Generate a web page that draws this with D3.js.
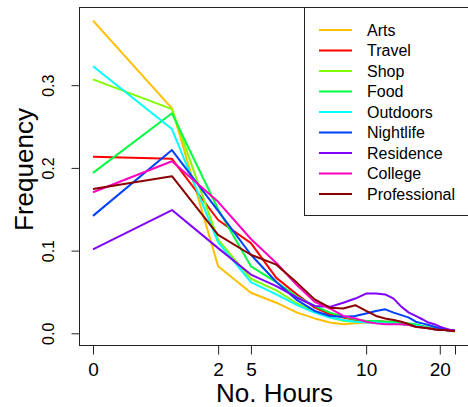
<!DOCTYPE html>
<html><head><meta charset="utf-8">
<script src="https://cdn.jsdelivr.net/npm/d3@7/dist/d3.min.js"></script>
<style>
body{margin:0;background:#fff}
svg{display:block}
text{font-family:"Liberation Sans",Arial,Helvetica,sans-serif;fill:#000}
</style>
</head><body>
<svg id="chart" width="468" height="407"></svg>
<script>
// ---- data ----
const hours = [0,1,2,3,4,5,6,7,8,9,10,11,12,13,14,15,16,17,18,19,20,21,22,23];
const seriesNames = ["Arts","Travel","Shop","Food","Outdoors","Nightlife","Residence","College","Professional"];
const seriesColors = ["#FFBF00","#FF0000","#80FF00","#00FF40","#00FFFF","#0040FF","#8000FF","#FF00BF","#8B0000"];
const arts        = [0.378,0.272,0.081,0.049,0.037,0.025,0.018,0.013,0.011,0.012,0.013,0.013,0.012,0.012,0.011,0.010,0.008,0.007,0.006,0.005,0.004,0.004,0.003,0.002];
const travel      = [0.2135,0.211,0.137,0.109,0.067,0.047,0.031,0.023,0.019,0.016,0.015,0.015,0.014,0.014,0.013,0.011,0.009,0.008,0.006,0.005,0.004,0.004,0.003,0.003];
const shop        = [0.307,0.271,0.113,0.066,0.052,0.036,0.026,0.019,0.015,0.014,0.014,0.014,0.013,0.013,0.012,0.011,0.010,0.008,0.007,0.005,0.004,0.004,0.003,0.003];
const food        = [0.194,0.266,0.150,0.081,0.062,0.044,0.033,0.025,0.020,0.017,0.015,0.015,0.014,0.014,0.013,0.012,0.011,0.009,0.007,0.006,0.005,0.004,0.003,0.003];
const outdoors    = [0.323,0.247,0.110,0.062,0.047,0.034,0.025,0.019,0.016,0.014,0.013,0.013,0.012,0.012,0.011,0.010,0.009,0.008,0.006,0.005,0.004,0.004,0.003,0.003];
const nightlife   = [0.142,0.2216,0.148,0.095,0.062,0.040,0.027,0.021,0.020,0.021,0.024,0.027,0.029,0.025,0.022,0.019,0.014,0.012,0.010,0.008,0.006,0.005,0.004,0.003];
const residence   = [0.1016,0.149,0.103,0.071,0.057,0.043,0.033,0.032,0.037,0.042,0.048,0.048,0.047,0.042,0.032,0.025,0.021,0.017,0.013,0.011,0.008,0.006,0.004,0.003];
const college     = [0.1705,0.208,0.159,0.114,0.085,0.058,0.038,0.030,0.021,0.018,0.014,0.012,0.011,0.011,0.011,0.010,0.008,0.007,0.006,0.005,0.004,0.004,0.003,0.003];
const professional= [0.1745,0.190,0.119,0.095,0.083,0.061,0.041,0.031,0.030,0.034,0.027,0.021,0.018,0.016,0.014,0.011,0.008,0.007,0.006,0.005,0.004,0.004,0.003,0.003];
const seriesValues = [arts,travel,shop,food,outdoors,nightlife,residence,college,professional];
const xTickValues = [0,2,3,10,20,23];
const xTickLabels = ["0","2","5","10","20",""];
const yTickValues = [0,0.1,0.2,0.3];

// ---- layout ----
const svg = d3.select("#chart");
const box = {left:79, top:7.5, right:469.5, bottom:345.5};
const x = d3.scaleSymlog().constant(1).domain([0,23]).range([93,455]);
const y = d3.scaleLinear().domain([0,0.3]).range([333.3,85.2]);

// lines
const line = d3.line().x((d,i)=>x(hours[i])).y(d=>y(d));
const gLines = svg.append("g");
seriesValues.forEach((vals,k)=>{
  gLines.append("path").datum(vals)
    .attr("d",line).attr("fill","none")
    .attr("stroke",seriesColors[k]).attr("stroke-width",2)
    .attr("stroke-linejoin","round");
});

// box
svg.append("rect").attr("x",box.left+0.5).attr("y",box.top)
  .attr("width",box.right-box.left).attr("height",box.bottom-box.top)
  .attr("fill","none").attr("stroke","#222").attr("stroke-width",1);

// x axis
const gx = svg.append("g").attr("transform",`translate(0,${box.bottom})`)
  .call(d3.axisBottom(x).tickValues(xTickValues).tickFormat((d,i)=>xTickLabels[i]).tickSize(9).tickSizeOuter(0));
gx.select(".domain").remove();
gx.selectAll(".tick line").attr("stroke","#222");
gx.selectAll(".tick text").attr("y",17).attr("font-size",19).attr("font-family",null);

// y axis
const gy = svg.append("g").attr("transform",`translate(${box.left+0.5},0)`)
  .call(d3.axisLeft(y).tickValues(yTickValues).tickFormat(d3.format(".1f")).tickSize(8).tickSizeOuter(0));
gy.select(".domain").remove();
gy.selectAll(".tick line").attr("stroke","#222");
gy.selectAll(".tick text").attr("x",null).attr("dy",null)
  .attr("text-anchor","middle").attr("font-size",16).attr("font-family",null)
  .attr("transform","translate(-26,0) rotate(-90)");

// axis titles
svg.append("text").attr("x",274.5).attr("y",402).attr("text-anchor","middle")
  .attr("font-size",26).text("No. Hours");
svg.append("text").attr("transform","translate(33,169.5) rotate(-90)")
  .attr("text-anchor","middle").attr("font-size",26).text("Frequency");

// legend
const lg = svg.append("g");
lg.append("rect").attr("x",304.5).attr("y",7.5).attr("width",170).attr("height",208)
  .attr("fill","#fff").attr("stroke","#222").attr("stroke-width",1);
seriesNames.forEach((n,k)=>{
  const yy = 30 + k*20.5;
  lg.append("line").attr("x1",319).attr("x2",352).attr("y1",yy).attr("y2",yy)
    .attr("stroke",seriesColors[k]).attr("stroke-width",2);
  lg.append("text").attr("x",367).attr("y",yy).attr("dy","0.36em")
    .attr("font-size",16).text(n);
});
</script>
</body></html>
